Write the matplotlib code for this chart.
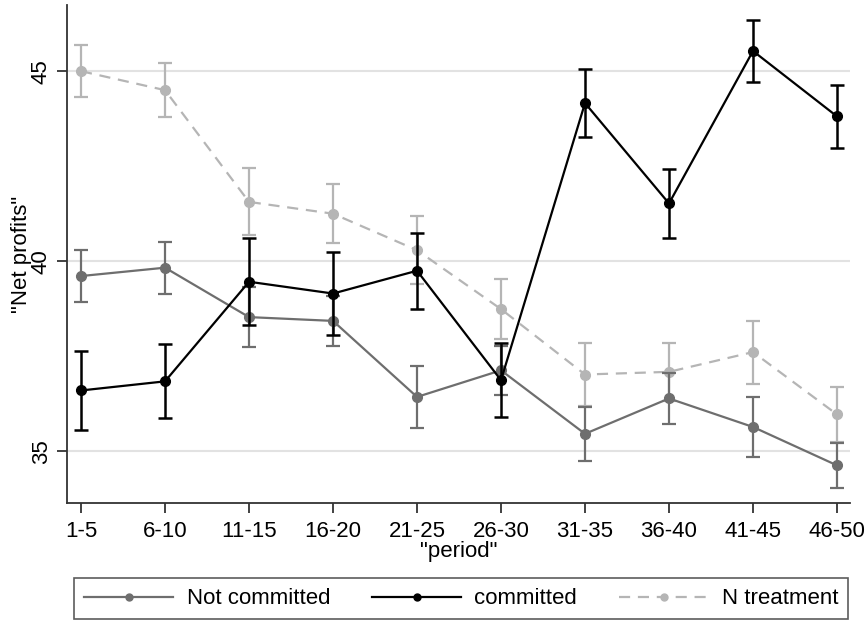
import numpy as np
import matplotlib
matplotlib.use("Agg")
import matplotlib.pyplot as plt
from matplotlib.lines import Line2D

periods = ["1-5", "6-10", "11-15", "16-20", "21-25", "26-30", "31-35", "36-40", "41-45", "46-50"]

not_committed = [39.61, 39.83, 38.53, 38.43, 36.43, 37.13, 35.46, 36.39, 35.64, 34.63]
not_committed_err = [0.69, 0.68, 0.79, 0.65, 0.81, 0.64, 0.71, 0.66, 0.78, 0.60]

committed = [36.60, 36.84, 39.46, 39.15, 39.75, 36.87, 44.16, 41.52, 45.53, 43.81]
committed_err = [1.03, 0.97, 1.15, 1.08, 1.00, 0.97, 0.90, 0.90, 0.82, 0.82]

n_treatment = [45.00, 44.50, 41.56, 41.25, 40.29, 38.74, 37.02, 37.09, 37.61, 35.97]
n_treatment_err = [0.69, 0.71, 0.88, 0.78, 0.89, 0.78, 0.84, 0.77, 0.83, 0.72]

plt.rcParams['font.family'] = ['Liberation Sans', 'DejaVu Sans']

fig = plt.figure(figsize=(8.67, 6.21), dpi=100)
ax = fig.add_axes([67 / 867, 118 / 621, 783 / 867, 498 / 621])

x = np.arange(1, len(periods) + 1)

c_nc, c_c, c_n = '#6e6e6e', 'black', '#b5b5b5'
dash = (0, (5, 3.5))

ax.errorbar(x, n_treatment, yerr=n_treatment_err, color=c_n, linestyle=dash,
            linewidth=1.6, marker='o', markersize=7, capsize=5, elinewidth=1.6, capthick=1.6,
            zorder=3)
ax.errorbar(x, not_committed, yerr=not_committed_err, color=c_nc, linestyle='-',
            linewidth=1.6, marker='o', markersize=7, capsize=5, elinewidth=1.6, capthick=1.6,
            zorder=4)
ax.errorbar(x, committed, yerr=committed_err, color=c_c, linestyle='-',
            linewidth=1.6, marker='o', markersize=7, capsize=5, elinewidth=1.8, capthick=1.8,
            zorder=5)

ax.set_xlim(0.833, 10.155)
ax.set_ylim(33.64, 46.74)
ax.set_xticks(x)
ax.set_xticklabels(periods)
ax.set_yticks([35, 40, 45])
ax.set_yticklabels(['35', '40', '45'], rotation=90, va='center')

for yy in [35, 40, 45]:
    ax.axhline(yy, color='#e2e2e2', linewidth=1.5, zorder=0)

for side in ['top', 'right']:
    ax.spines[side].set_visible(False)
for side in ['left', 'bottom']:
    ax.spines[side].set_color('#333333')
    ax.spines[side].set_linewidth(1.3)

ax.tick_params(axis='both', direction='out', length=7, width=1.3, color='#333333',
               labelsize=16)
ax.tick_params(axis='x', pad=6)
ax.tick_params(axis='y', pad=4)

ax.set_xlabel('"period"', fontsize=16, labelpad=-1)
ax.set_ylabel('"Net profits"', fontsize=16, labelpad=-1)

handles = [
    Line2D([], [], color=c_nc, linestyle='-', linewidth=1.6, marker='o', markersize=5),
    Line2D([], [], color=c_c, linestyle='-', linewidth=1.6, marker='o', markersize=5),
    Line2D([], [], color=c_n, linestyle=dash, linewidth=1.6, marker='o', markersize=5),
]
labels = ['Not committed', 'committed', 'N treatment']
leg = fig.legend(handles, labels,
                 loc='center', bbox_to_anchor=(0.532, 0.0355), ncol=3, fontsize=16,
                 frameon=True, fancybox=False, edgecolor='#333333',
                 handlelength=4.0, handletextpad=0.6, columnspacing=1.9,
                 borderpad=0.45, borderaxespad=0)
leg.get_frame().set_linewidth(1.2)

fig.savefig('out.png', dpi=100)
